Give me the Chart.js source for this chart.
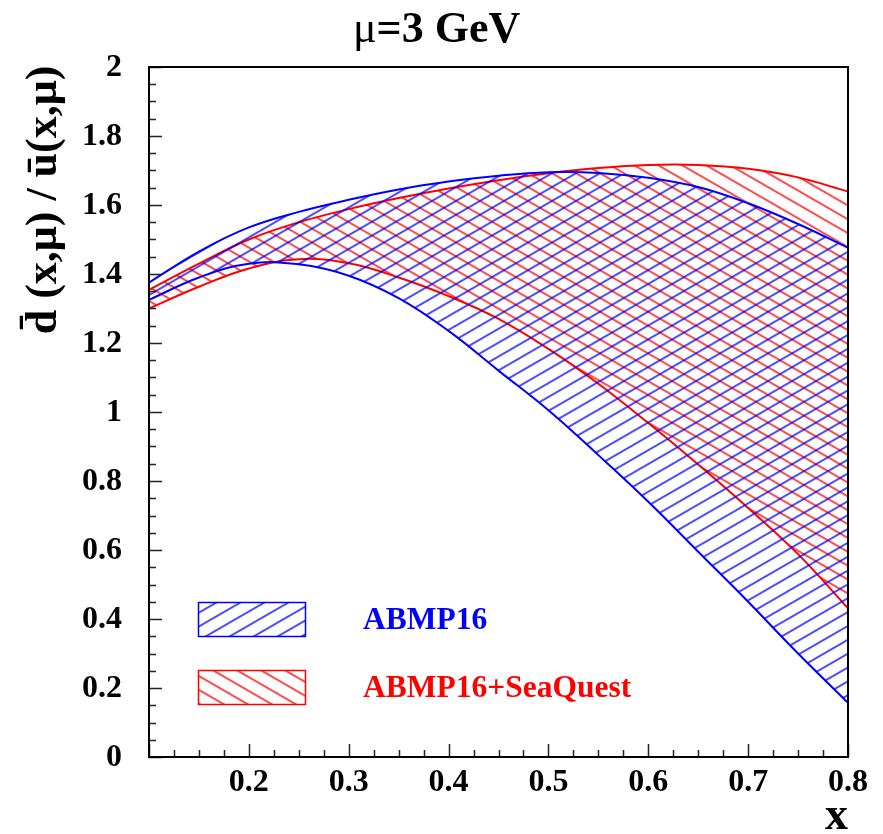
<!DOCTYPE html>
<html>
<head>
<meta charset="utf-8">
<script src="https://cdn.jsdelivr.net/npm/chart.js@4.4.0/dist/chart.umd.min.js"></script>
<style>
  body { margin: 0; background: #fff; }
  canvas { display: block; }
</style>
</head>
<body>
<canvas id="grafico" width="883" height="834"></canvas>
<script>
// x grid of the bands
const xValues = [0.10, 0.15, 0.20, 0.25, 0.30, 0.35, 0.40, 0.45, 0.50, 0.55, 0.60, 0.65, 0.70, 0.75, 0.80];

// ABMP16 band (lower / upper edge)
const abmpLow  = [1.325, 1.39, 1.43, 1.428, 1.395, 1.33, 1.235, 1.12, 1.005, 0.875, 0.74, 0.595, 0.45, 0.30, 0.157];
const abmpHigh = [1.375, 1.465, 1.535, 1.58, 1.615, 1.645, 1.668, 1.685, 1.695, 1.693, 1.679, 1.652, 1.605, 1.545, 1.476];

// ABMP16+SeaQuest band (lower / upper edge)
const seaLow  = [1.30, 1.363, 1.416, 1.443, 1.431, 1.39, 1.336, 1.27, 1.183, 1.082, 0.968, 0.848, 0.722, 0.588, 0.431];
const seaHigh = [1.354, 1.43, 1.50, 1.55, 1.588, 1.62, 1.648, 1.672, 1.692, 1.707, 1.716, 1.716, 1.705, 1.68, 1.639];

const xTicks = [0.2, 0.3, 0.4, 0.5, 0.6, 0.7, 0.8];
const xTickLabels = ['0.2', '0.3', '0.4', '0.5', '0.6', '0.7', '0.8'];
const yTicks = [0, 0.2, 0.4, 0.6, 0.8, 1, 1.2, 1.4, 1.6, 1.8, 2];
const yTickLabels = ['0', '0.2', '0.4', '0.6', '0.8', '1', '1.2', '1.4', '1.6', '1.8', '2'];

const seriesNames = ['ABMP16', 'ABMP16+SeaQuest'];
const BLUE = '#0000ff';
const RED = '#ff0000';
const FONT = '"Liberation Serif", "Times New Roman", serif';

function pts(ys) {
    return xValues.map((x, i) => ({ x: x, y: ys[i] }));
}

// hatch pattern: one horizontal line per tile, rotated
function hatch(color, angle) {
    const c = document.createElement('canvas');
    c.width = 16; c.height = 12;
    const g = c.getContext('2d');
    g.strokeStyle = color;
    g.lineWidth = 1.4;
    g.beginPath(); g.moveTo(0, 6); g.lineTo(16, 6); g.stroke();
    const p = g.createPattern(c, 'repeat');
    p.setTransform(new DOMMatrix().rotate(angle));
    return p;
}

const blueHatch = hatch(BLUE, -30);
const redHatch = hatch(RED, 30);

// frame, ticks, labels, legend and titles
const decor = {
    id: 'decor',
    afterDraw(chart) {
        const ctx = chart.ctx;
        const a = chart.chartArea;
        const xs = chart.scales.x, ys = chart.scales.y;
        ctx.save();

        // ticks (inside the frame)
        ctx.strokeStyle = '#222';
        ctx.lineWidth = 1.5;
        ctx.beginPath();
        for (let v = 0.1; v <= 0.8001; v += 0.025) {
            const px = Math.round(xs.getPixelForValue(v)) + 0.5;
            const major = Math.abs(v * 10 - Math.round(v * 10)) < 1e-6;
            ctx.moveTo(px, a.bottom);
            ctx.lineTo(px, a.bottom - (major ? 13 : 7));
        }
        for (let v = 0; v <= 2.0001; v += 0.05) {
            const py = Math.round(ys.getPixelForValue(v)) + 0.5;
            const major = Math.abs(v * 5 - Math.round(v * 5)) < 1e-6;
            ctx.moveTo(a.left, py);
            ctx.lineTo(a.left + (major ? 13 : 7), py);
        }
        ctx.stroke();

        // frame
        ctx.strokeStyle = '#000';
        ctx.lineWidth = 2;
        ctx.strokeRect(a.left, a.top, a.right - a.left, a.bottom - a.top);

        // tick labels
        ctx.fillStyle = '#000';
        ctx.font = 'bold 32px ' + FONT;
        ctx.textAlign = 'center';
        ctx.textBaseline = 'top';
        xTicks.forEach((v, i) => ctx.fillText(xTickLabels[i], xs.getPixelForValue(v), 767));
        ctx.textAlign = 'right';
        ctx.textBaseline = 'middle';
        yTicks.forEach((v, i) => ctx.fillText(yTickLabels[i], 122, ys.getPixelForValue(v) + 1));

        // axis titles
        ctx.font = 'bold 46px ' + FONT;
        ctx.textAlign = 'right';
        ctx.textBaseline = 'alphabetic';
        ctx.fillText('x', 848, 829);

        ctx.save();
        ctx.translate(56, 200);
        ctx.rotate(-Math.PI / 2);
        ctx.textAlign = 'center';
        ctx.font = 'bold 44px ' + FONT;
        ctx.fillText('d\u0304 (x,\u03bc) / \u016b(x,\u03bc)', 0, 0);
        ctx.restore();

        // title
        ctx.textAlign = 'left';
        ctx.font = '44px ' + FONT;
        ctx.fillText('\u03bc', 353, 42);
        const w = ctx.measureText('\u03bc').width;
        ctx.font = 'bold 44px ' + FONT;
        ctx.fillText('=3 GeV', 353 + w, 42);

        // legend
        const boxes = [[602, BLUE, blueHatch], [670, RED, redHatch]];
        boxes.forEach(([top, color, pat], i) => {
            ctx.fillStyle = pat;
            ctx.fillRect(198, top, 108, 35);
            ctx.strokeStyle = color;
            ctx.lineWidth = 1.5;
            ctx.strokeRect(198.5, top + 0.5, 107, 34);
            ctx.fillStyle = color;
            ctx.font = 'bold 31.5px ' + FONT;
            ctx.textAlign = 'left';
            ctx.textBaseline = 'middle';
            ctx.fillText(seriesNames[i], 363, top + 19);
        });

        ctx.restore();
    }
};

function band(ys, color, pat, fill) {
    return {
        data: pts(ys),
        borderColor: color,
        borderWidth: 2,
        backgroundColor: pat,
        pointRadius: 0,
        tension: 0.4,
        fill: fill
    };
}

new Chart(document.getElementById('grafico').getContext('2d'), {
    type: 'line',
    data: {
        datasets: [
            band(abmpLow, BLUE, blueHatch, false),
            band(abmpHigh, BLUE, blueHatch, '-1'),
            band(seaLow, RED, redHatch, false),
            band(seaHigh, RED, redHatch, '-1')
        ]
    },
    options: {
        responsive: false,
        animation: false,
        devicePixelRatio: 1,
        layout: { padding: { left: 149, top: 67, right: 35, bottom: 77 } },
        plugins: { legend: { display: false }, title: { display: false }, tooltip: { enabled: false } },
        scales: {
            x: { type: 'linear', min: 0.1, max: 0.8, display: false },
            y: { min: 0, max: 2, display: false }
        }
    },
    plugins: [decor]
});
</script>
</body>
</html>
